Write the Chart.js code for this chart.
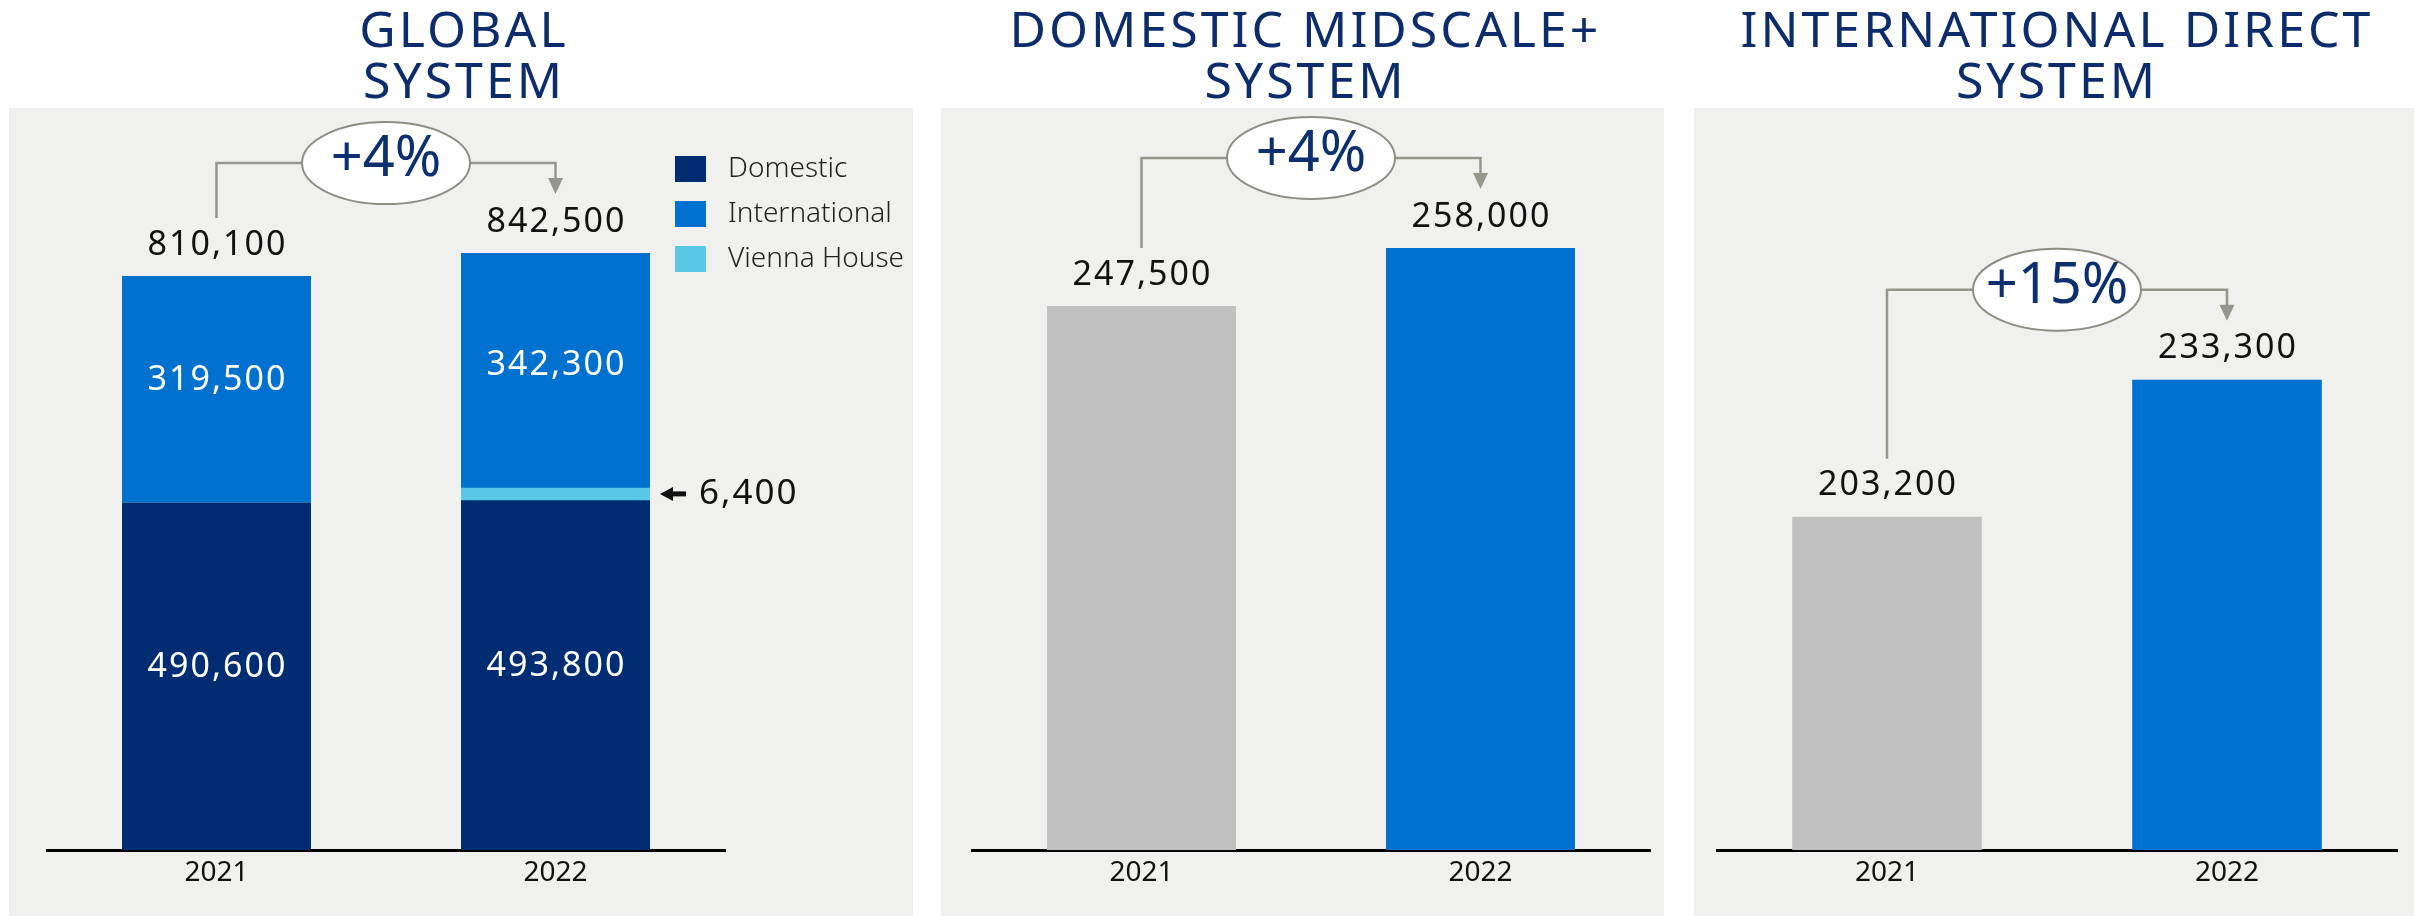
<!DOCTYPE html>
<html>
<head>
<meta charset="utf-8">
<script src="https://cdn.jsdelivr.net/npm/chart.js@4.4.1/dist/chart.umd.min.js"></script>
<style>
    body { margin: 0; background: #fff; width: 2422px; height: 916px; overflow: hidden; position: relative; font-family: "Noto Sans", sans-serif; }
    .panel { position: absolute; top: 108px; height: 808px; background: #f0f0ee; }
    .panel canvas { position: absolute; left: 0; top: 0; }
    .title { position: absolute; top: 3px; text-align: center; color: #0c2c6c; font-size: 50px; line-height: 51px; letter-spacing: 3px; padding-left: 3px; white-space: nowrap; }
</style>
</head>
<body>
<div class="title" style="left:9px;width:904px;">GLOBAL<br>SYSTEM</div>
<div class="title" style="left:941px;width:723px;">DOMESTIC MIDSCALE+<br>SYSTEM</div>
<div class="title" style="left:1694px;width:720px;">INTERNATIONAL DIRECT<br>SYSTEM</div>

<div class="panel" style="left:9px;width:904px;"><canvas id="globalChart" width="904" height="808"></canvas></div>
<div class="panel" style="left:941px;width:723px;"><canvas id="midscaleChart" width="723" height="808"></canvas></div>
<div class="panel" style="left:1694px;width:720px;"><canvas id="intlChart" width="720" height="808"></canvas></div>

<script>
const years = ['2021', '2022'];

// Global system (stacked)
const globalDomestic = [490600, 493800];
const globalVienna = [null, 6400];
const globalInternational = [319500, 342300];
const globalTotals = [810100, 842500];

// Single series panels
const midscaleValues = [247500, 258000];
const intlDirectValues = [203200, 233300];

const growthLabels = ['+4%', '+4%', '+15%'];

const NAVY = '#002d72';
const BLUE = '#0071ce';
const LIGHT = '#5bc8e8';
const GREY = '#c0c0c0';
const LINE = '#96968e';

Chart.defaults.font.family = '"Noto Sans", sans-serif';
Chart.defaults.animation = false;

function fmt(v) {
    return v.toLocaleString('en-US');
}

function barTops(chart) {
    const tops = [], xs = [];
    chart.data.labels.forEach(function(label, i) {
        let top = Infinity, x = 0;
        chart.data.datasets.forEach(function(ds, d) {
            const el = chart.getDatasetMeta(d).data[i];
            if (el && ds.data[i] != null && el.y < top) {
                top = el.y;
                x = el.x;
            }
        });
        tops.push(top);
        xs.push(x);
    });
    return { tops: tops, xs: xs };
}

const annotatePlugin = {
    id: 'annotate',
    afterDatasetsDraw(chart, args, opts) {
        const ctx = chart.ctx;
        const pos = barTops(chart);
        const tops = pos.tops, xs = pos.xs;

        ctx.save();
        ctx.textAlign = 'center';
        ctx.textBaseline = 'middle';
        ctx.font = '34px "Noto Sans"';
        ctx.letterSpacing = '2px';

        // totals above bars
        ctx.fillStyle = '#111';
        opts.totals.forEach(function(v, i) {
            ctx.fillText(fmt(v), xs[i] + 1, tops[i] - 31);
        });

        // values inside stacked segments
        ctx.fillStyle = '#fff';
        (opts.inner || []).forEach(function(d) {
            chart.getDatasetMeta(d).data.forEach(function(el, i) {
                const v = chart.data.datasets[d].data[i];
                if (v == null) return;
                ctx.fillText(fmt(v), el.x + 1, (el.y + el.base) / 2 - 9);
            });
        });

        // small callout for the thin segment
        if (opts.callout) {
            const c = opts.callout;
            const el = chart.getDatasetMeta(c.dataset).data[c.index];
            const v = chart.data.datasets[c.dataset].data[c.index];
            const y = (el.y + el.base) / 2 - 4;
            const tip = el.x + el.width / 2 + c.inflate + 18;
            ctx.fillStyle = '#111';
            ctx.beginPath();
            ctx.moveTo(tip, y);
            ctx.lineTo(tip + 13, y - 7);
            ctx.lineTo(tip + 13, y + 7);
            ctx.closePath();
            ctx.fill();
            ctx.fillRect(tip + 12, y - 2.5, 14, 5);
            ctx.textAlign = 'left';
            ctx.font = '35px "Noto Sans"';
            ctx.fillText(fmt(v), tip + 39, y);
        }

        // growth bracket
        const lineY = Math.min(tops[0], tops[1]) - 90;
        const cx = (xs[0] + xs[1]) / 2;
        const tipY = tops[1] - 59;
        ctx.strokeStyle = LINE;
        ctx.lineWidth = 2.5;
        ctx.beginPath();
        ctx.moveTo(xs[0], tops[0] - 58);
        ctx.lineTo(xs[0], lineY);
        ctx.lineTo(xs[1], lineY);
        ctx.lineTo(xs[1], tipY - 14);
        ctx.stroke();
        ctx.fillStyle = LINE;
        ctx.beginPath();
        ctx.moveTo(xs[1], tipY);
        ctx.lineTo(xs[1] - 7.5, tipY - 16);
        ctx.lineTo(xs[1] + 7.5, tipY - 16);
        ctx.closePath();
        ctx.fill();

        ctx.beginPath();
        ctx.ellipse(cx, lineY, 84, 41, 0, 0, Math.PI * 2);
        ctx.fillStyle = '#fff';
        ctx.fill();
        ctx.lineWidth = 2;
        ctx.strokeStyle = '#8e8e86';
        ctx.stroke();

        ctx.textAlign = 'center';
        ctx.letterSpacing = '0px';
        ctx.font = '56px "Noto Sans"';
        ctx.fillStyle = '#0b2f6f';
        ctx.fillText(opts.growth, cx, lineY - 3);
        ctx.restore();
    }
};

const legendPlugin = {
    id: 'boxLegend',
    afterDraw(chart, args, opts) {
        if (!opts.items) return;
        const ctx = chart.ctx;
        ctx.save();
        ctx.font = '300 28px "Noto Sans"';
        ctx.textBaseline = 'middle';
        ctx.textAlign = 'left';
        opts.items.forEach(function(name, i) {
            const ds = chart.data.datasets.find(function(d) { return d.label === name; });
            const y = opts.y + i * opts.gap;
            ctx.fillStyle = ds.backgroundColor;
            ctx.fillRect(opts.x, y - 13, 31, 26);
            ctx.fillStyle = '#222';
            ctx.fillText(name, opts.x + 53, y);
        });
        ctx.restore();
    }
};

function xAxis() {
    return {
        z: 1,
        grid: { display: false, drawTicks: false },
        border: { display: true, color: '#000', width: 3 },
        ticks: { color: '#111', font: { size: 28 }, padding: 6 },
        afterFit: function(axis) { axis.height = 66; }
    };
}

function makeGlobalChart() {
    const ctx = document.getElementById('globalChart').getContext('2d');
    return new Chart(ctx, {
        type: 'bar',
        data: {
            labels: years,
            datasets: [
                { label: 'Domestic', data: globalDomestic, backgroundColor: NAVY, barPercentage: 0.5575, inflateAmount: 0 },
                { label: 'Vienna House', data: globalVienna, backgroundColor: LIGHT, barPercentage: 0.5103, inflateAmount: 8 },
                { label: 'International', data: globalInternational, backgroundColor: BLUE, barPercentage: 0.5575, inflateAmount: 0 }
            ]
        },
        options: {
            responsive: false,
            layout: { padding: { left: 38, right: 188, top: 30, bottom: 0 } },
            categoryPercentage: 1,
            plugins: {
                legend: { display: false },
                tooltip: { enabled: false },
                annotate: { totals: globalTotals, inner: [0, 2], growth: growthLabels[0], callout: { dataset: 1, index: 1, inflate: 0 } },
                boxLegend: { items: ['Domestic', 'International', 'Vienna House'], x: 666, y: 61, gap: 45 }
            },
            scales: {
                x: Object.assign(xAxis(), { stacked: true }),
                y: { stacked: true, display: false, min: 0, max: 1005000 }
            }
        },
        plugins: [annotatePlugin, legendPlugin]
    });
}

function makeSimpleChart(id, values, padLeft, padRight, yMin, yMax, growth) {
    const ctx = document.getElementById(id).getContext('2d');
    return new Chart(ctx, {
        type: 'bar',
        data: {
            labels: years,
            datasets: [{
                label: 'System',
                data: values,
                backgroundColor: [GREY, BLUE],
                barPercentage: 0.5575,
                categoryPercentage: 1,
                inflateAmount: 0
            }]
        },
        options: {
            responsive: false,
            layout: { padding: { left: padLeft, right: padRight, top: 30, bottom: 0 } },
            plugins: {
                legend: { display: false },
                tooltip: { enabled: false },
                annotate: { totals: values, growth: growth }
            },
            scales: {
                x: xAxis(),
                y: { display: false, min: yMin, max: yMax }
            }
        },
        plugins: [annotatePlugin]
    });
}

makeGlobalChart();
makeSimpleChart('midscaleChart', midscaleValues, 31, 14, 149000, 277900, growthLabels[1]);
makeSimpleChart('intlChart', intlDirectValues, 23, 17, 130000, 286400, growthLabels[2]);
</script>
</body>
</html>
